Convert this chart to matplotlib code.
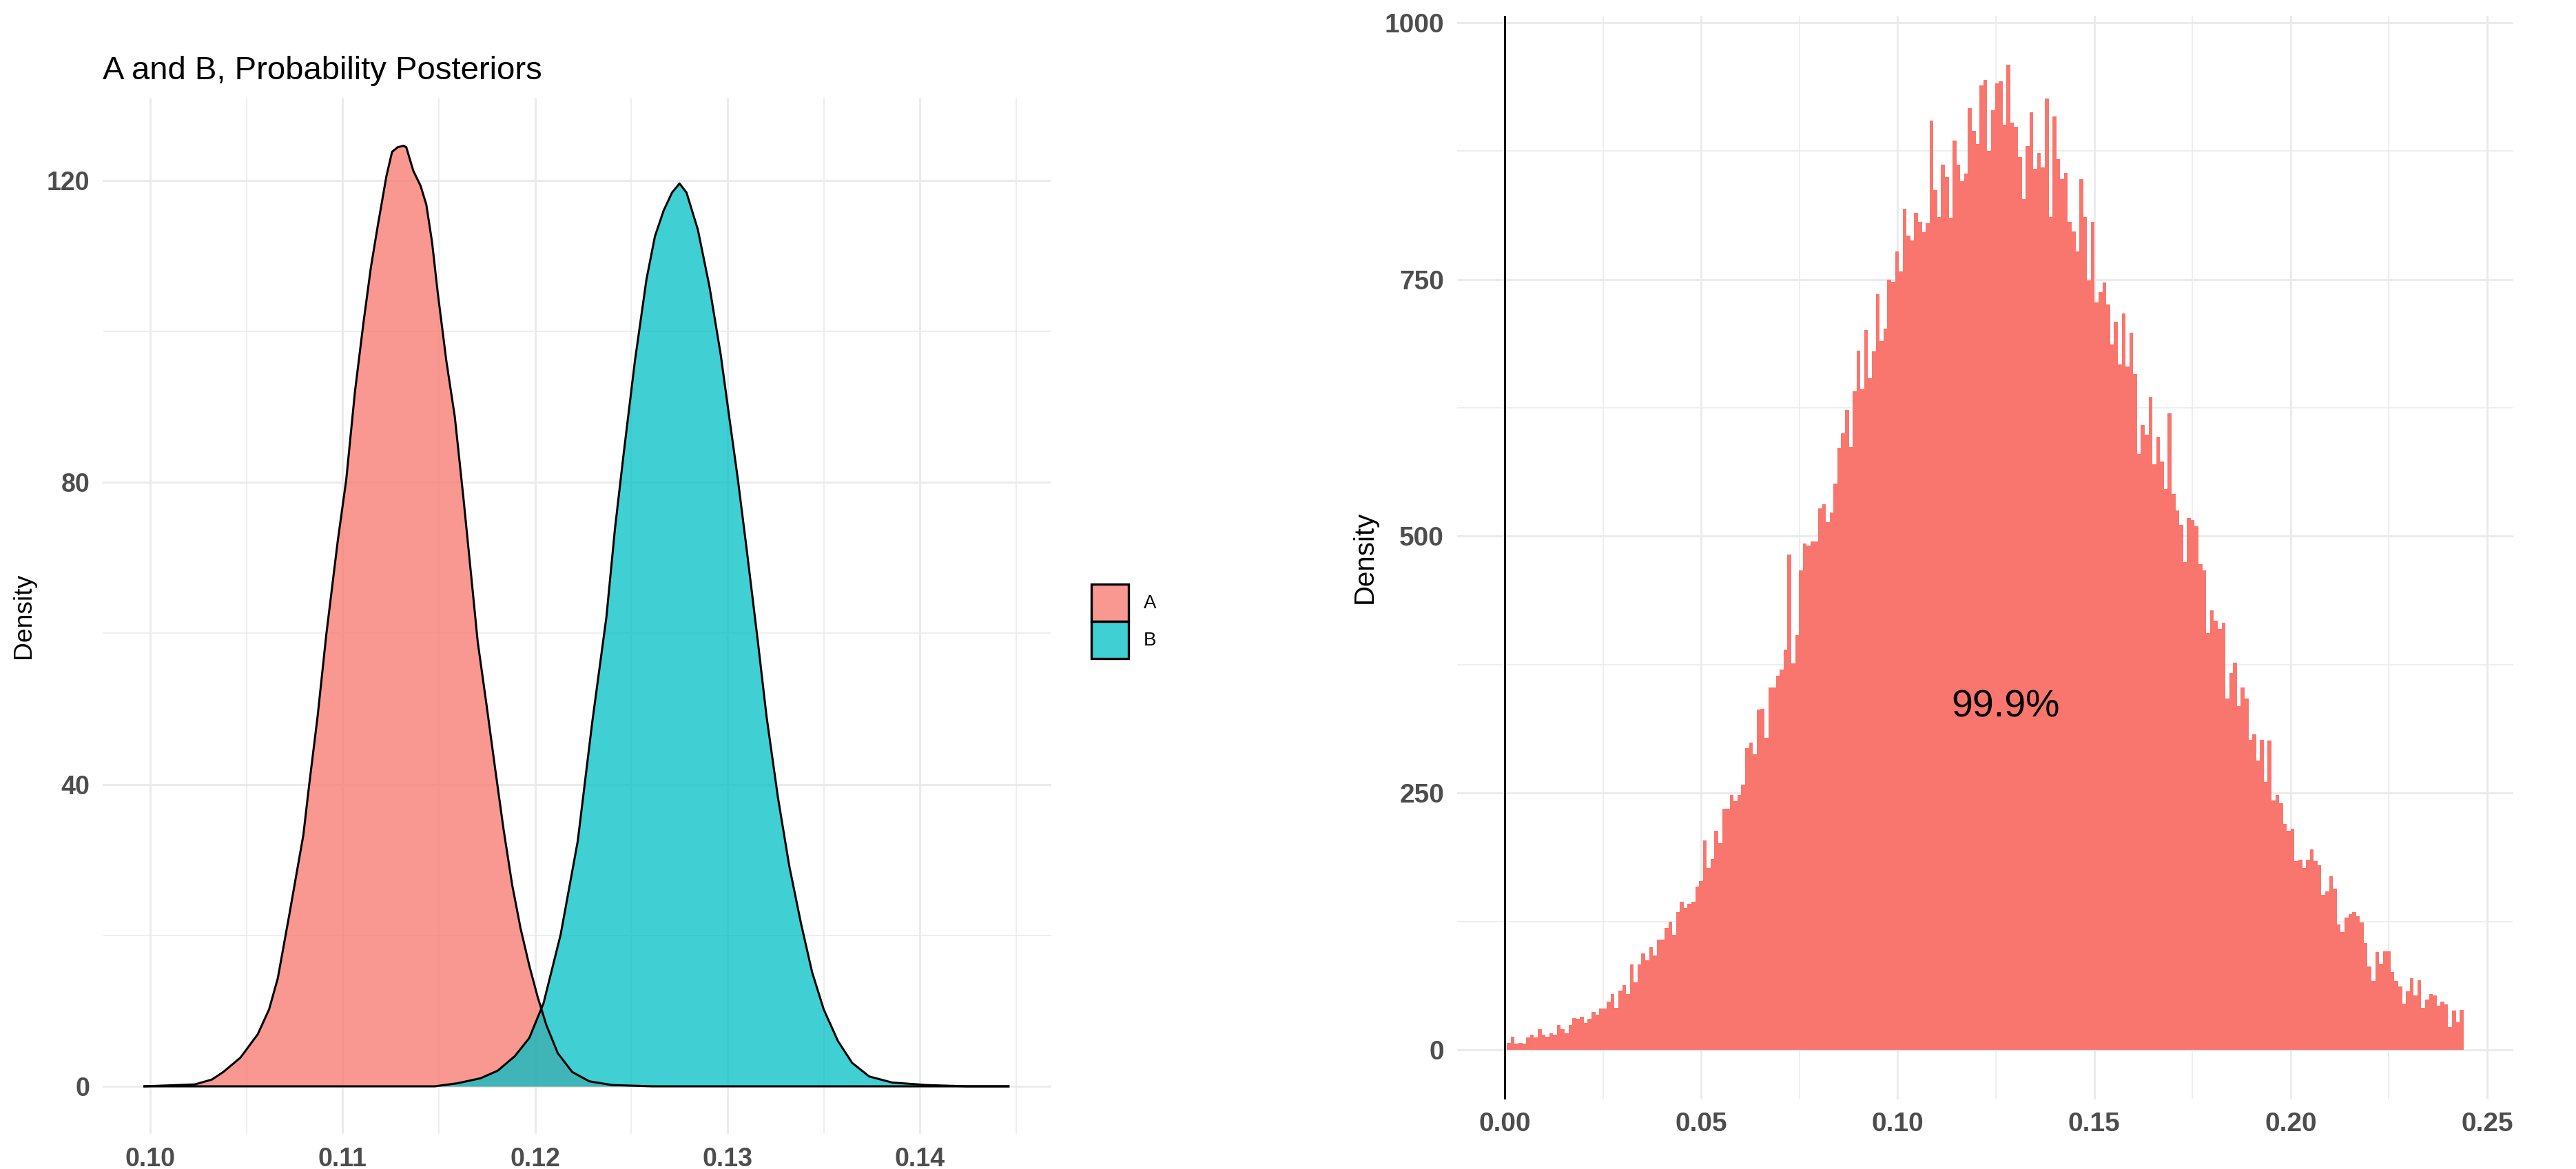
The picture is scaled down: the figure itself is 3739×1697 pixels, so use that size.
import numpy as np
import matplotlib
matplotlib.use('Agg')
import matplotlib.pyplot as plt
from matplotlib.patches import Patch
from matplotlib.colors import to_rgba

plt.rcParams['font.family'] = ['Liberation Sans', 'DejaVu Sans']

# left panel: posterior densities of A and B
a_x = [0.0997, 0.10232, 0.10321, 0.10380, 0.10469, 0.10559, 0.10618, 0.10663, 0.10722, 0.10796,
       0.10826, 0.10870, 0.10915, 0.10974, 0.11019, 0.11064, 0.11108, 0.11147, 0.11182, 0.11227,
       0.11257, 0.11286, 0.11316, 0.11331, 0.11367, 0.11405, 0.11435, 0.11465, 0.11494, 0.11539,
       0.11583, 0.11628, 0.11673, 0.11702, 0.11747, 0.11791, 0.11836, 0.11881, 0.11925, 0.11970,
       0.12014, 0.12059, 0.12118, 0.12193, 0.12282, 0.12400, 0.12608, 0.1446]
a_y = [0, 0.25, 0.9, 1.9, 3.8, 6.9, 10.2, 14.3, 22.6, 33.3,
       39.9, 49, 59.8, 72.1, 80.4, 92, 101.1, 108.5, 113.9, 120.5,
       123.8, 124.4, 124.6, 124.4, 121.3, 119.3, 116.8, 111.8, 105.2, 96.1,
       88.7, 77.9, 66.4, 58.9, 50.7, 42.4, 34.1, 26.7, 20.9, 16,
       11.8, 8.1, 4.4, 1.9, 0.66, 0.17, 0, 0]

b_x = [0.0997, 0.11479, 0.11598, 0.11717, 0.11806, 0.11895, 0.11970, 0.12044, 0.12133, 0.12222,
       0.12297, 0.12371, 0.12415, 0.12460, 0.12519, 0.12579, 0.12623, 0.12668, 0.12712, 0.12751,
       0.12787, 0.12846, 0.12906, 0.12965, 0.13009, 0.13054, 0.13099, 0.13158, 0.13203, 0.13262,
       0.13321, 0.13381, 0.13440, 0.13500, 0.13574, 0.13648, 0.13737, 0.13856, 0.14034, 0.14242,
       0.1446]
b_y = [0, 0, 0.41, 1.07, 2.07, 4.0, 6.4, 11, 20.1, 32.5,
       48.2, 62.2, 73.8, 83.7, 96.1, 106.9, 112.6, 116, 118.4, 119.6,
       118.4, 113.5, 106, 96.9, 88.7, 80.4, 71.3, 58.9, 49, 38.3,
       29.2, 21.7, 15.1, 10.2, 6.0, 3.1, 1.3, 0.5, 0.17, 0,
       0]

# right panel: histogram counts
hist_start = 0.00058
hist_width = 0.0009776
counts = [7, 13, 6, 7, 6, 12, 15, 12, 20, 15,
          13, 16, 15, 24, 20, 16, 24, 31, 30, 32,
          26, 30, 37, 34, 40, 40, 47, 54, 41, 58,
          63, 54, 83, 66, 83, 94, 87, 100, 92, 107,
          107, 119, 125, 112, 134, 144, 138, 142, 144, 159,
          164, 204, 177, 186, 213, 201, 235, 235, 248, 242,
          248, 258, 294, 299, 288, 331, 332, 304, 353, 353,
          364, 370, 390, 482, 376, 404, 467, 493, 491, 495,
          495, 527, 531, 514, 523, 551, 586, 600, 623, 587,
          641, 681, 643, 701, 654, 680, 736, 690, 702, 750,
          748, 777, 758, 819, 793, 788, 815, 806, 796, 805,
          905, 837, 811, 862, 850, 810, 885, 862, 846, 853,
          917, 895, 882, 939, 944, 875, 915, 941, 943, 901,
          959, 903, 899, 869, 828, 880, 913, 858, 873, 859,
          926, 811, 909, 867, 848, 854, 806, 797, 777, 848,
          811, 749, 806, 728, 738, 747, 726, 687, 709, 667,
          717, 665, 698, 658, 580, 608, 599, 636, 570, 597,
          573, 546, 620, 541, 525, 511, 475, 518, 516, 510,
          473, 467, 406, 428, 418, 410, 416, 342, 367, 377,
          335, 353, 342, 302, 307, 282, 302, 261, 301, 243,
          248, 240, 220, 213, 215, 184, 185, 177, 185, 195,
          184, 180, 151, 154, 169, 157, 122, 115, 129, 132,
          134, 130, 124, 104, 81, 67, 95, 84, 96, 96,
          76, 67, 62, 45, 57, 70, 53, 68, 41, 49,
          54, 53, 43, 47, 44, 22, 38, 27, 39]
prob_label = '99.9%'

col_a = '#F8766D'
col_b = '#00BFC4'
grid_col = '#EBEBEB'
tick_col = '#4D4D4D'

W, H = 3739, 1697
fig = plt.figure(figsize=(W / 200, H / 200), dpi=200)

def style(ax, fs):
    for s in ax.spines.values():
        s.set_visible(False)
    ax.set_axisbelow(True)
    ax.grid(which='major', color=grid_col, lw=1.1)
    ax.grid(which='minor', color=grid_col, lw=0.6)
    ax.tick_params(which='both', length=0)
    ax.tick_params(which='major', pad=6.8, labelsize=fs, labelcolor=tick_col)
    for lab in ax.get_xticklabels() + ax.get_yticklabels():
        lab.set_fontweight('bold')

# ---- left panel
ax1 = fig.add_axes([149 / W, 1 - 1646 / H, (1526 - 149) / W, (1646 - 142) / H])
ax1.fill_between(a_x, a_y, color=col_a, alpha=0.75, lw=0)
ax1.plot(a_x, a_y, color='black', lw=1.1)
ax1.fill_between(b_x, b_y, color=col_b, alpha=0.75, lw=0)
ax1.plot(b_x, b_y, color='black', lw=1.1)
ax1.set_xlim(0.09753, 0.14683)
ax1.set_ylim(-6.3, 130.95)
ax1.set_xticks([0.10, 0.11, 0.12, 0.13, 0.14])
ax1.set_xticklabels(['0.10', '0.11', '0.12', '0.13', '0.14'])
ax1.set_xticks([0.105, 0.115, 0.125, 0.135, 0.145], minor=True)
ax1.set_yticks([0, 40, 80, 120])
ax1.set_yticklabels(['0', '40', '80', '120'])
ax1.set_yticks([20, 60, 100], minor=True)
style(ax1, 13.5)
ax1.set_ylabel('Density', fontsize=13.4, color='black')
ax1.yaxis.set_label_coords(-0.0704, 0.5)
ax1.set_title('A and B, Probability Posteriors', loc='left', fontsize=17, pad=9.7)

handles = [Patch(facecolor=to_rgba(col_a, 0.75), edgecolor='black', lw=1.2, label='A'),
           Patch(facecolor=to_rgba(col_b, 0.75), edgecolor='black', lw=1.2, label='B')]
fig.legend(handles=handles, loc='upper left', bbox_to_anchor=(1584 / W, 1 - 848 / H),
           bbox_transform=fig.transFigure, frameon=False, fontsize=10,
           borderpad=0, borderaxespad=0, handlelength=1.94, handleheight=2.61,
           labelspacing=0, handletextpad=0.8)

# ---- right panel
ax2 = fig.add_axes([2115 / W, 1 - 1595.5 / H, (3648 - 2115) / W, (1595.5 - 23) / H])
edges = hist_start + hist_width * np.arange(len(counts) + 1)
ax2.stairs(counts, edges, fill=True, color=col_a, lw=0)
ax2.axvline(0, color='black', lw=1.0)
ax2.text(0.1275, 334, prob_label, ha='center', va='center', fontsize=20, color='black')
ax2.set_xlim(-0.0121, 0.25666)
ax2.set_ylim(-47.95, 1006.7)
ax2.set_xticks([0, 0.05, 0.10, 0.15, 0.20, 0.25])
ax2.set_xticklabels(['0.00', '0.05', '0.10', '0.15', '0.20', '0.25'])
ax2.set_xticks([0.025, 0.075, 0.125, 0.175, 0.225], minor=True)
ax2.set_yticks([0, 250, 500, 750, 1000])
ax2.set_yticklabels(['0', '250', '500', '750', '1000'])
ax2.set_yticks([125, 375, 625, 875], minor=True)
style(ax2, 14)
ax2.set_ylabel('Density', fontsize=14.5, color='black')
ax2.yaxis.set_label_coords(-0.0752, 0.5)

fig.savefig('out.png', dpi=200)
